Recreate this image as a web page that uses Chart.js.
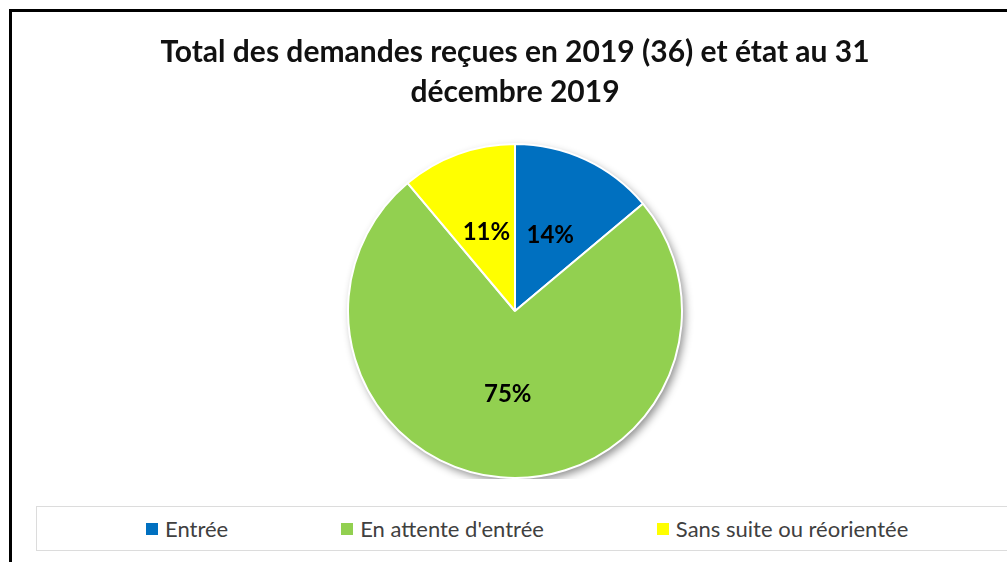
<!DOCTYPE html>
<html>
<head>
<meta charset="utf-8">
<script src="https://cdn.jsdelivr.net/npm/chart.js@4"></script>
<style>
  body { margin: 0; background: #fff; overflow: hidden; width: 1007px; height: 562px; position: relative; }
  #frame { position: absolute; left: 9px; top: 9px; width: 1040px; height: 620px; border-left: 3px solid #000; border-top: 3px solid #000; }
  #wrap { position: absolute; left: 12px; top: 12px; width: 1006px; height: 467px; }
  #legendBox { position: absolute; left: 36px; top: 506px; width: 1000px; height: 45px; border: 1px solid #dcdcdc;
    display: flex; align-items: center; padding-left: 109px; box-sizing: border-box; gap: 113px;
    font-family: Lato, "Open Sans", sans-serif; font-size: 22px; color: #404040; }
  .item { display: flex; align-items: center; white-space: nowrap; }
  .swatch { width: 12px; height: 12px; margin-right: 7px; }
</style>
</head>
<body>
<div id="frame"></div>
<div id="wrap"><canvas id="pieChart"></canvas></div>
<div id="legendBox"></div>
<script>
// données (36 demandes)
const categories = ["Entrée", "En attente d'entrée", "Sans suite ou réorientée"];
const demandes = [5, 27, 4];
const couleurs = ["#0070C0", "#92D050", "#FFFF00"];
const titre = ["Total des demandes reçues en 2019 (36) et état au 31", "décembre 2019"];

// ombre portée sous le camembert
const pieShadow = {
    id: 'pieShadow',
    beforeDatasetsDraw: function (chart) {
        const arc = chart.getDatasetMeta(0).data[0];
        if (!arc) return;
        const ctx = chart.ctx;
        ctx.save();
        ctx.shadowColor = 'rgba(0,0,0,0.45)';
        ctx.shadowBlur = 9;
        ctx.shadowOffsetX = 3;
        ctx.shadowOffsetY = 4;
        ctx.fillStyle = '#fff';
        ctx.beginPath();
        ctx.arc(arc.x, arc.y, arc.outerRadius, 0, Math.PI * 2);
        ctx.fill();
        ctx.restore();
    }
};

// pourcentages dans les parts
const pctLabels = {
    id: 'pctLabels',
    afterDatasetsDraw: function (chart) {
        const ctx = chart.ctx;
        const data = chart.data.datasets[0].data;
        const total = data.reduce(function (a, b) { return a + b; }, 0);
        ctx.save();
        ctx.font = 'bold 24px Lato, "Open Sans", sans-serif';
        ctx.fillStyle = '#000';
        ctx.textAlign = 'center';
        ctx.textBaseline = 'middle';
        chart.getDatasetMeta(0).data.forEach(function (arc, i) {
            const p = arc.getCenterPoint();
            ctx.fillText(Math.round(data[i] / total * 100) + '%', p.x, p.y);
        });
        ctx.restore();
    }
};

const chart = new Chart(document.getElementById("pieChart"), {
    type: 'pie',
    data: {
        labels: categories,
        datasets: [{
            data: demandes,
            backgroundColor: couleurs,
            borderColor: '#fff',
            borderWidth: 2
        }]
    },
    options: {
        responsive: true,
        maintainAspectRatio: false,
        animation: false,
        layout: { padding: 0 },
        plugins: {
            legend: { display: false },
            tooltip: { enabled: false },
            title: {
                display: true,
                text: titre,
                color: '#111',
                font: { family: 'Lato, "Open Sans", sans-serif', size: 30, weight: 'bold', lineHeight: 1.35 },
                padding: { top: 20, bottom: 30 }
            }
        }
    },
    plugins: [pieShadow, pctLabels]
});

// légende HTML dans un cadre, à partir des libellés de Chart.js
const box = document.getElementById('legendBox');
chart.options.plugins.legend.labels.generateLabels(chart).forEach(function (item) {
    const el = document.createElement('div');
    el.className = 'item';
    const sw = document.createElement('span');
    sw.className = 'swatch';
    sw.style.background = item.fillStyle;
    const tx = document.createElement('span');
    tx.textContent = item.text;
    el.appendChild(sw);
    el.appendChild(tx);
    box.appendChild(el);
});
</script>
</body>
</html>
